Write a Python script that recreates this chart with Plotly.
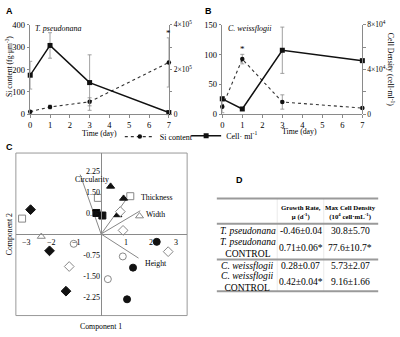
import plotly.graph_objects as go

W, H = 400, 337
def px(x): return x / W
def py(y): return 1 - y / H

SERIF = "Liberation Serif"
SANS = "Liberation Sans"
GRAY = "#8a8a8a"

days = [0, 1, 3, 7]
# Panel A: T. pseudonana
a_si = [12, 33, 56, 232]
a_si_err = [5, 8, 18, 110]
a_cell = [1.75e5, 3.08e5, 1.42e5, 0.08e5]
a_cell_err = [0.62e5, 0.57e5, 1.24e5, 0.02e5]
# Panel B: C. weissflogii
b_si = [12.8, 92.6, 20.7, 10.5]
b_si_err = [10, 8, 12, 2]
b_cell = [1.39e4, 0.48e4, 5.73e4, 4.8e4]
b_cell_err = [0.2e4, 0.1e4, 2.07e4, 0.0]

# Panel C: PCA scores by group (symbol, filled)
pca_groups = [
    ("circle", True, [1.28, 1.04, 2.23], [-1.20, -2.33, -0.28]),
    ("circle", False, [-1.10, 0.87, 0.27], [-0.35, -0.80, -1.61]),
    ("square", True, [-0.19, 0.05], [0.75, 0.66]),
    ("square", False, [-3.17, -0.13, 1.17], [0.55, 1.29, 1.35]),
    ("triangle-up", True, [0.38, 0.90, 0.67], [1.70, 1.27, 0.68]),
    ("triangle-up", False, [-2.40, 1.54], [-0.09, 0.64]),
    ("diamond", True, [-2.83, -2.07, -1.41], [0.87, -0.60, -2.04]),
    ("diamond", False, [-1.28, 0.77, 0.88, 2.69], [-1.16, 0.80, 0.13, -0.63]),
]
load_names = ["Circularity", "Thickness", "Width", "Height"]
load_x = [-0.84, 1.10, 1.57, 1.50]
load_y = [2.12, 1.35, 0.83, -0.86]
load_lab_x = [-0.35, 1.50, 1.70, 1.68]
load_lab_y = [1.95, 1.29, 0.71, -1.07]
c_xticks = [-3, -2, -1, 1, 2, 3]
c_yticks = [-2.25, -1.5, -0.75, 0.75, 1.5, 2.25]
c_yticklabels = ["-2.25", "-1.50", "-0.75", "0.75", "1.50", "2.25"]

# Panel D table
header_vals = ["", "<b>Growth Rate,</b><br><b>μ (d<sup>-1</sup>)</b>",
               "<b>Max Cell Density</b><br><b>(10<sup>4</sup> cell·mL<sup>-1</sup>)</b>"]
species = ["<i>T. pseudonana</i>", "<i>T. pseudonana</i><br>CONTROL",
           "<i>C. weissflogii</i>", "<i>C. weissflogii</i><br>CONTROL"]
growth = ["-0.46±0.04", "0.71±0.06*", "0.28±0.07", "0.42±0.04*"]
maxcd = ["30.8±5.70", "77.6±10.7*", "5.73±2.07", "9.16±1.66"]

fig = go.Figure()

def err(arr):
    return dict(type="data", array=arr, color=GRAY, thickness=0.8, width=2)

# Panel A
fig.add_trace(go.Scatter(x=days, y=a_cell, xaxis="x", yaxis="y2", mode="lines+markers",
                         line=dict(color="#111", width=1.5), marker=dict(symbol="square", size=5, color="#111"),
                         error_y=err(a_cell_err), showlegend=False, cliponaxis=False))
fig.add_trace(go.Scatter(x=days, y=a_si, xaxis="x", yaxis="y", mode="lines+markers", name="Si content",
                         line=dict(color="#333", width=1.1, dash="dot"), marker=dict(symbol="circle", size=4.5, color="#111"),
                         error_y=err(a_si_err), showlegend=True, legend="legend", cliponaxis=False))
# Panel B
fig.add_trace(go.Scatter(x=days, y=b_cell, xaxis="x2", yaxis="y4", mode="lines+markers", name="Cell· ml<sup>-1</sup>",
                         line=dict(color="#111", width=1.5), marker=dict(symbol="square", size=5, color="#111"),
                         error_y=err(b_cell_err), showlegend=True, legend="legend2", cliponaxis=False))
fig.add_trace(go.Scatter(x=days, y=b_si, xaxis="x2", yaxis="y3", mode="lines+markers",
                         line=dict(color="#333", width=1.1, dash="dot"), marker=dict(symbol="circle", size=4.5, color="#111"),
                         error_y=err(b_si_err), showlegend=False, cliponaxis=False))

# Panel C loadings
for n, lx, ly in zip(load_names, load_x, load_y):
    fig.add_trace(go.Scatter(x=[0, lx], y=[0, ly], xaxis="x3", yaxis="y5", mode="lines",
                             line=dict(color="#888", width=1), showlegend=False, hoverinfo="skip"))
for sym, filled, gx, gy in pca_groups:
    fig.add_trace(go.Scatter(x=gx, y=gy, xaxis="x3", yaxis="y5", mode="markers", showlegend=False,
                             cliponaxis=False,
                             marker=dict(symbol=sym, size=7 if sym != "diamond" else 7.5,
                                         color="#111" if filled else "white",
                                         line=dict(color="#111" if filled else "#888", width=1))))

tickfont = dict(family=SERIF, size=8.5, color="black")
rtickfont = dict(family=SERIF, size=7.5, color="black")
common = dict(showgrid=False, zeroline=False, showline=True, linecolor=GRAY, linewidth=1,
              ticks="outside", tickcolor=GRAY, ticklen=2.5)

xdomA = [px(28.5), px(168.5)]
xdomB = [px(222.5), px(364)]
ydomAB = [py(112), py(19.5)]

fig.update_layout(
    width=W, height=H, margin=dict(l=0, r=0, t=0, b=0),
    paper_bgcolor="white", plot_bgcolor="white",
    xaxis=dict(domain=xdomA, range=[0, 7], tickvals=list(range(8)), anchor="y", tickfont=tickfont, **common),
    yaxis=dict(domain=ydomAB, range=[0, 400], tickvals=[0, 100, 200, 300, 400], anchor="x", tickfont=tickfont, **common),
    yaxis2=dict(overlaying="y", side="right", anchor="free", position=xdomA[1], range=[0, 4e5],
                tickvals=[0, 1e5, 2e5, 3e5, 4e5], tickfont=rtickfont,
                ticktext=["0", "", "2×10<sup>5</sup>", "", "4×10<sup>5</sup>"], **common),
    xaxis2=dict(domain=xdomB, range=[0, 7], tickvals=list(range(8)), anchor="y3", tickfont=tickfont, **common),
    yaxis3=dict(domain=ydomAB, range=[0, 150], tickvals=[0, 50, 100, 150], anchor="x2", tickfont=tickfont, **common),
    yaxis4=dict(overlaying="y3", side="right", anchor="free", position=xdomB[1], range=[0, 8e4],
                tickvals=[0, 2e4, 4e4, 6e4, 8e4], tickfont=rtickfont,
                ticktext=["0", "", "4×10<sup>4</sup>", "", "8×10<sup>4</sup>"], **common),
    xaxis3=dict(domain=[px(14), px(187)], range=[-3.42, 3.45], anchor="free", position=py(235.8),
                showgrid=False, zeroline=False, showline=True, linecolor=GRAY, linewidth=1,
                ticks="", tickvals=c_xticks, tickfont=dict(family=SERIF, size=8, color="black")),
    yaxis5=dict(domain=[py(320), py(152)], range=[-2.91, 2.89], anchor="free", position=px(100.5),
                showgrid=False, zeroline=False, showline=True, linecolor=GRAY, linewidth=1,
                ticks="", tickvals=c_yticks, ticktext=c_yticklabels,
                tickfont=dict(family=SERIF, size=8, color="black")),
    legend=dict(x=px(119), y=py(135), xanchor="left", yanchor="middle", bgcolor="rgba(0,0,0,0)",
                font=dict(family=SERIF, size=8, color="black"), itemwidth=30),
    legend2=dict(x=px(186), y=py(134), xanchor="left", yanchor="middle", bgcolor="rgba(0,0,0,0)",
                 font=dict(family=SERIF, size=8, color="black"), itemwidth=30),
)

# Table geometry (layout only)
tx0, tx1 = 217, 380
col_centers = [248, 302, 352]
col_seps = [278, 325]
row_lines = [199, 225, 262, 295]
header_y = 213
row_y = [232, 250, 268, 285]

shapes = [dict(type="rect", xref="x3 domain", yref="y5 domain", x0=0, x1=1, y0=0, y1=1,
               line=dict(color="#999", width=1), layer="below")]
for xs in col_seps:
    shapes.append(dict(type="line", xref="paper", yref="paper", x0=px(xs), x1=px(xs),
                       y0=py(row_lines[0]), y1=py(row_lines[-1]), line=dict(color="#dcdcdc", width=0.6)))
for yy in row_lines:
    shapes.append(dict(type="line", xref="paper", yref="paper", x0=px(tx0), x1=px(tx1),
                       y0=py(yy), y1=py(yy), line=dict(color="#9a9a9a", width=2)))
fig.update_layout(shapes=shapes)

ann = []
def A(x, y, text, size=8.5, family=SERIF, xanchor="center", yanchor="middle", angle=0, **kw):
    ann.append(dict(x=x, y=y, xref=kw.pop("xref", "paper"), yref=kw.pop("yref", "paper"), text=text,
                    showarrow=False, xanchor=xanchor, yanchor=yanchor, textangle=angle,
                    font=dict(family=family, size=size, color="black"), **kw))

A(px(2), py(5), "<b>A</b>", size=9, family=SANS, xanchor="left")
A(px(203), py(5), "<b>B</b>", size=9, family=SANS, xanchor="left")
A(px(2), py(146), "<b>C</b>", size=9, family=SANS, xanchor="left")
A(px(234), py(180), "<b>D</b>", size=9, family=SANS, xanchor="left")
A(px(31), py(23), "<i>T. pseudonana</i>", size=8, xanchor="left")
A(px(226), py(23), "<i>C. weissflogii</i>", size=8, xanchor="left")
A(px(7), py(62), "Si content (fg·μm<sup>-3</sup>)", size=7.6, angle=-90)
A(px(393), py(65), "Cell Density (cell·ml<sup>-1</sup>)", size=7.8, angle=90)
A(px(98), py(132), "Time (day)", size=7.8)
A(px(300), py(130), "Time (day)", size=7.8)
A(7, a_si[3] + a_si_err[3] - 8, "*", size=9, xref="x", yref="y", yanchor="bottom")
A(1, b_si[1] + b_si_err[1] - 2, "*", size=9, xref="x2", yref="y3", yanchor="bottom")
A(px(100), py(331), "Component 1", size=7.8)
A(px(7), py(236), "Component 2", size=7.8, angle=-90)
for n, lx, ly in zip(load_names, load_lab_x, load_lab_y):
    A(lx, ly, n, size=7.8, xref="x3", yref="y5", xanchor="center" if n == "Circularity" else "left")

# Table text built from the data lists
for ci, hv in enumerate(header_vals):
    if hv:
        A(px(col_centers[ci]), py(header_y), hv, size=6.8)
for col_i, col in enumerate([species, growth, maxcd]):
    for r, v in enumerate(col):
        A(px(col_centers[col_i]), py(row_y[r]), v, size=9.6)
fig.update_layout(annotations=ann)

fig.write_html("out.html", config={"displayModeBar": False},
               post_script="document.body.style.margin='0px';document.body.style.overflow='hidden';")
